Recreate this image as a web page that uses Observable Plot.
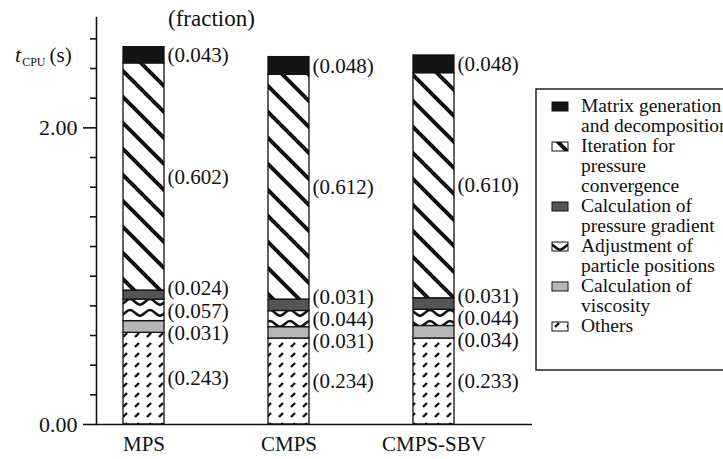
<!DOCTYPE html>
<html><head><meta charset="utf-8">
<script src="https://cdn.jsdelivr.net/npm/d3@7"></script>
<script src="https://cdn.jsdelivr.net/npm/@observablehq/plot@0.6"></script>
<style>
body{margin:0;background:#fff;overflow:hidden}
#wrap{position:relative;width:723px;height:459px;overflow:hidden;font-family:"Liberation Serif","Tinos","Times New Roman",Times,"DejaVu Serif","Noto Serif",serif}
#wrap svg{position:absolute;left:0;top:0}
#wrap svg text{font-family:"Liberation Serif","Tinos","Times New Roman",Times,"DejaVu Serif","Noto Serif",serif !important}
</style></head><body><div id="wrap"></div>
<script>
// ---- data ----
const methods = ["MPS", "CMPS", "CMPS-SBV"];
const categories = [
  "Others",
  "Calculation of viscosity",
  "Adjustment of particle positions",
  "Calculation of pressure gradient",
  "Iteration for pressure convergence",
  "Matrix generation and decomposition"
];
const totalsSec = [2.544, 2.477, 2.488];           // total t_CPU (s) per method
const fracMPS  = [0.243, 0.031, 0.057, 0.024, 0.602, 0.043];
const fracCMPS = [0.234, 0.031, 0.044, 0.031, 0.612, 0.048];
const fracSBV  = [0.233, 0.034, 0.044, 0.031, 0.610, 0.048];
const yMajorTicks = [0, 2];
const yMajorLabels = ["0.00", "2.00"];
const yMinorTicks = [0.2, 0.4, 0.6, 0.8, 1.0, 1.2, 1.4, 1.6, 1.8, 2.2, 2.4, 2.6];
const legendLines = [
  ["Matrix generation", "and decomposition"],
  ["Iteration for", "pressure", "convergence"],
  ["Calculation of", "pressure gradient"],
  ["Adjustment of", "particle positions"],
  ["Calculation of", "viscosity"],
  ["Others"]
];
const legendCats = [5, 4, 3, 2, 1, 0]; // legend order (top to bottom) as category indexes

// ---- styles ----
const fills = {
  "Others": "url(#p-others)",
  "Calculation of viscosity": "#b6b6b6",
  "Adjustment of particle positions": "url(#p-wave)",
  "Calculation of pressure gradient": "#555555",
  "Iteration for pressure convergence": "url(#p-iter)",
  "Matrix generation and decomposition": "#141414"
};
const FONT = "'Liberation Serif','Tinos','Times New Roman',Times,'DejaVu Serif',serif";

// ---- build tables ----
const fracs = [fracMPS, fracCMPS, fracSBV];
const rows = [];
const labels = [];
methods.forEach((m, i) => {
  let cum = 0;
  const ls = [];
  categories.forEach((c, j) => {
    const t = fracs[i][j] * totalsSec[i];
    rows.push({method: m, cat: c, frac: fracs[i][j], time: t});
    ls.push({method: m, cat: c, ly: cum + t / 2, label: "(" + fracs[i][j].toFixed(3) + ")"});
    cum += t;
  });
  // push overlapping labels apart (data units)
  const gap = 0.150;
  for (let it = 0; it < 400; it++) {
    let moved = false;
    for (let k = 0; k < ls.length - 1; k++) {
      const d = ls[k + 1].ly - ls[k].ly;
      if (d < gap - 1e-7) { const s = (gap - d) / 2; ls[k].ly -= s; ls[k + 1].ly += s; moved = true; }
    }
    if (!moved) break;
  }
  labels.push(...ls);
});

const plot = Plot.plot({
  width: 723, height: 459,
  marginTop: 17, marginBottom: 35, marginLeft: 96, marginRight: 191,
  style: {fontFamily: FONT, color: "#111", background: "transparent"},
  x: {domain: methods, paddingInner: 0.7172, paddingOuter: 0.362, align: 0.257, label: null},
  y: {domain: [0, 2.744], label: null},
  color: {type: "identity"},
  marks: [
    Plot.barY(rows, {x: "method", y: "time", fill: d => fills[d.cat], stroke: "#111", strokeWidth: 1.3}),
    Plot.text(labels, {x: "method", y: "ly", text: "label", textAnchor: "start", dx: 23.5, fontSize: 21, fill: "#111"}),
    Plot.axisY({ticks: yMajorTicks, tickFormat: d => yMajorLabels[yMajorTicks.indexOf(d)], tickSize: 13, tickPadding: 6, fontSize: 22, label: null, stroke: "#111", strokeWidth: 1.6}),
    Plot.axisY({ticks: yMinorTicks, tickFormat: () => "", tickSize: 6, label: null, stroke: "#111", strokeWidth: 1.6}),
    Plot.axisX({tickSize: 0, tickPadding: 12, fontSize: 21, label: null}),
    Plot.ruleY([0], {stroke: "#111", strokeWidth: 1.6}),
    Plot.frame({anchor: "left", stroke: "#111", strokeWidth: 1.6})
  ]
});
const wrap = document.getElementById("wrap");

// ---- overlay: pattern defs, axis title, legend ----
const NS = "http://www.w3.org/2000/svg";
let s = `<defs>
<pattern id="p-iter" patternUnits="userSpaceOnUse" width="26" height="26">
  <rect width="26" height="26" fill="#fff"/>
  <path d="M-3,-3L29,29M-16,10L16,42M10,-16L42,16" stroke="#111" stroke-width="4"/>
</pattern>
<pattern id="p-wave" patternUnits="userSpaceOnUse" width="20" height="11">
  <rect width="20" height="11" fill="#fff"/>
  <path d="M-1,8 C4,8 6,2 10,2 C14,2 16,8 21,8" fill="none" stroke="#111" stroke-width="2.5"/>
</pattern>
<pattern id="p-others" patternUnits="userSpaceOnUse" width="12" height="10">
  <rect width="12" height="10" fill="#fff"/>
  <path d="M3,7L7,3" stroke="#111" stroke-width="2.4"/>
</pattern>
</defs>`;
s += `<text x="15" y="62" fill="#111"><tspan font-style="italic" font-size="22">t</tspan><tspan font-size="12" dx="1" dy="4">CPU</tspan><tspan font-size="21" dx="4" dy="-4">(s)</tspan></text>`;
s += `<text x="168" y="26" font-size="23" fill="#111">(fraction)</text>`;
s += `<rect x="536" y="89" width="220" height="281" fill="#fff" stroke="#222" stroke-width="1.5"/>`;
let line = 0;
legendLines.forEach((ls, k) => {
  const base = 112 + 20 * line;
  const cat = categories[legendCats[k]];
  s += `<rect x="552" y="${base - 10}" width="16" height="9" fill="${fills[cat]}" stroke="#111" stroke-width="1"/>`;
  ls.forEach((t, q) => {
    s += `<text x="581" y="${base + 20 * q}" font-size="19.5" fill="#111">${t}</text>`;
  });
  line += ls.length;
});
const ov = document.createElementNS(NS, "svg");
ov.setAttribute("width", 723); ov.setAttribute("height", 459);
ov.style.pointerEvents = "none";
ov.innerHTML = s;
wrap.appendChild(ov);
wrap.appendChild(plot);
</script></body></html>
